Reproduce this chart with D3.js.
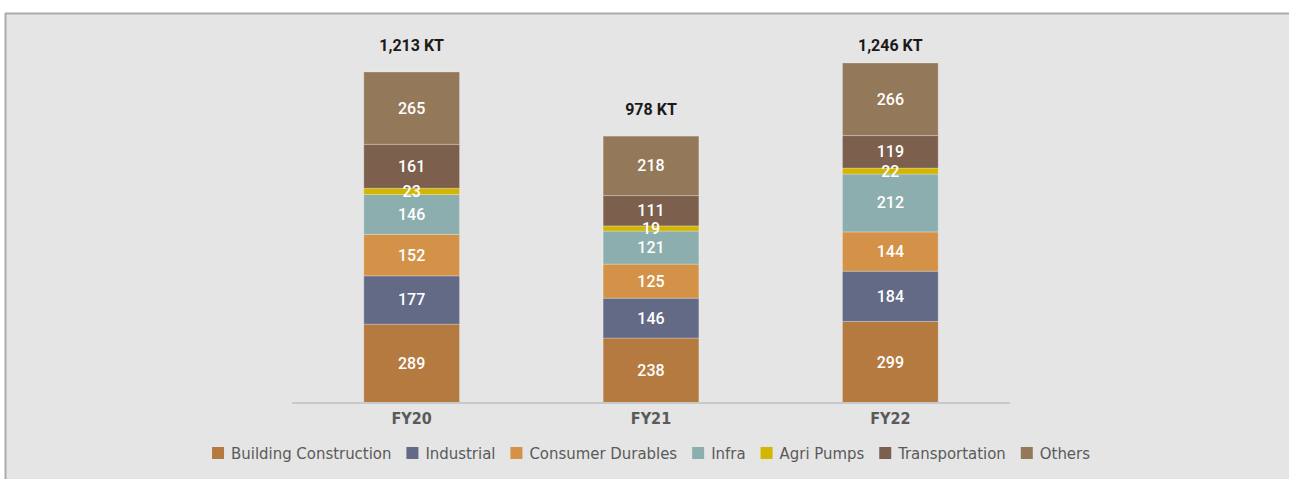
<!DOCTYPE html>
<html lang="en">
<head>
<meta charset="UTF-8">
<title>Segment volumes FY20-FY22</title>
<script src="https://d3js.org/d3.v7.min.js"></script>
<style>
    html, body { margin: 0; padding: 0; background: #fff; }
    svg { display: block; }
    .total { font-family: Roboto, sans-serif; font-weight: 700; font-size: 16px; fill: #1a1a1a; }
    .val { font-family: Roboto, sans-serif; font-size: 16px; fill: #fff; font-weight: 500; }
    .tick text { font-family: "DejaVu Sans", sans-serif; font-stretch: condensed; font-size: 16px; fill: #5a5a5a; font-weight: 700; }
    .legend text { font-family: "DejaVu Sans", sans-serif; font-stretch: condensed; font-size: 16.6px; fill: #5a5a5a; }
</style>
</head>
<body>
<svg width="1289" height="479"></svg>
<script>
// data
const years = ["FY20", "FY21", "FY22"];
const segments = ["Building Construction", "Industrial", "Consumer Durables", "Infra", "Agri Pumps", "Transportation", "Others"];
const buildingConstruction = [289, 238, 299];
const industrial = [177, 146, 184];
const consumerDurables = [152, 125, 144];
const infra = [146, 121, 212];
const agriPumps = [23, 19, 22];
const transportation = [161, 111, 119];
const others = [265, 218, 266];
const totalLabels = ["1,213 KT", "978 KT", "1,246 KT"];
const colors = ["#b57a40", "#626a86", "#d49248", "#8daeae", "#d2b600", "#7d5f4e", "#94785a"];

const seriesValues = [buildingConstruction, industrial, consumerDurables, infra, agriPumps, transportation, others];
const table = years.map((y, i) => {
    const row = { year: y };
    segments.forEach((s, j) => row[s] = seriesValues[j][i]);
    return row;
});

const svg = d3.select("svg");
const W = 1289, H = 479;

// panel
svg.append("rect").attr("x", 5).attr("y", 13).attr("width", W - 5).attr("height", H - 13).attr("fill", "#e5e5e5");
svg.append("line").attr("x1", 5).attr("x2", W).attr("y1", 13.5).attr("y2", 13.5).attr("stroke", "#ababab").attr("stroke-width", 2);
svg.append("line").attr("x1", 5.5).attr("x2", 5.5).attr("y1", 13).attr("y2", H).attr("stroke", "#ababab").attr("stroke-width", 2);

const x0 = 292, x1 = 1010, baseY = 403;
const x = d3.scaleBand().domain(years).range([x0, x1]).paddingInner(0.6).paddingOuter(0.3);
const y = d3.scaleLinear().domain([0, 1213]).range([baseY, 72]);

const stack = d3.stack().keys(segments)(table);

const g = svg.append("g");
// all bars first, labels on top
stack.forEach((layer, j) => {
    g.append("g").selectAll("rect").data(layer).join("rect")
        .attr("x", d => x(d.data.year))
        .attr("width", x.bandwidth())
        .attr("y", d => y(d[1]))
        .attr("height", d => y(d[0]) - y(d[1]))
        .attr("fill", colors[j])
        .attr("stroke", "rgba(255,255,255,0.25)")
        .attr("stroke-width", 1);
});
stack.forEach(layer => {
    g.append("g").selectAll("text").data(layer).join("text")
        .attr("class", "val")
        .attr("x", d => x(d.data.year) + x.bandwidth() / 2)
        .attr("y", d => (y(d[0]) + y(d[1])) / 2)
        .attr("text-anchor", "middle")
        .attr("dominant-baseline", "central")
        .text(d => d[1] - d[0]);
});

// totals
const last = stack[stack.length - 1];
g.selectAll("text.total").data(last).join("text")
    .attr("class", "total")
    .attr("x", d => x(d.data.year) + x.bandwidth() / 2)
    .attr("y", d => Math.max(y(d[1]) - 27, 45))
    .attr("text-anchor", "middle")
    .attr("dominant-baseline", "central")
    .text((d, i) => totalLabels[i]);

// axis
const ax = svg.append("g").attr("transform", `translate(0,${baseY})`)
    .call(d3.axisBottom(x).tickSize(0).tickPadding(7));
ax.select(".domain").attr("stroke", "#c8c8c8").attr("stroke-width", 2).attr("d", `M${x0},0H${x1}`);
ax.selectAll(".tick text").attr("dy", "0.9em");

// legend
const leg = svg.append("g").attr("class", "legend");
const items = leg.selectAll("g").data(segments).join("g");
items.append("rect").attr("width", 12).attr("height", 12).attr("y", -6).attr("fill", (d, i) => colors[i]);
items.append("text").attr("x", 19).attr("dominant-baseline", "central").text(d => d);
let cx = 0;
const pos = [];
items.each(function () {
    const w = this.querySelector("text").getComputedTextLength() + 19;
    pos.push(cx);
    cx += w + 15;
});
const legW = cx - 15;
const startX = (x0 + x1) / 2 - legW / 2;
items.attr("transform", (d, i) => `translate(${startX + pos[i]},453)`);
</script>
</body>
</html>
